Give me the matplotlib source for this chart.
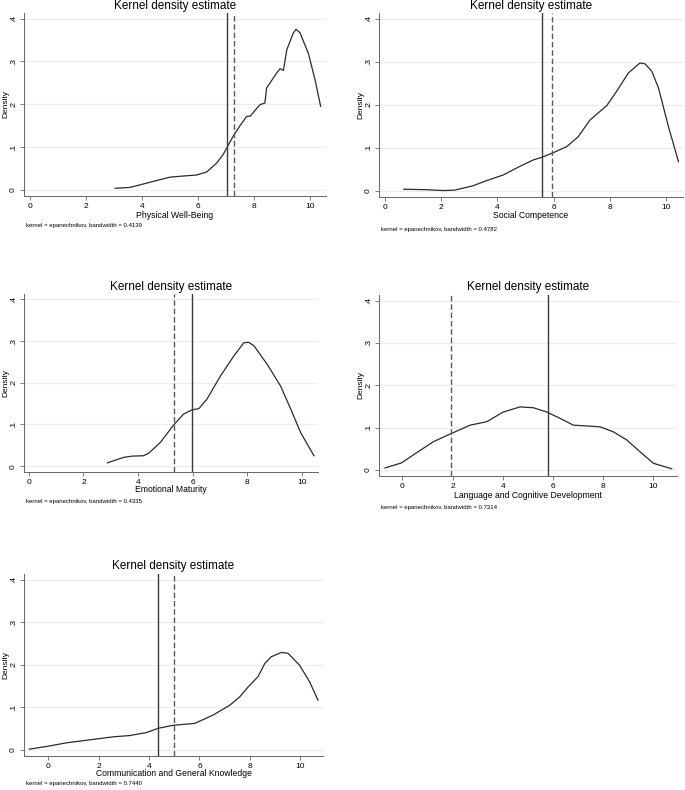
import matplotlib
matplotlib.use("Agg")
import matplotlib.pyplot as plt

plt.rcParams['font.family'] = ['Liberation Sans', 'DejaVu Sans']

# 各面板数据
pwb_x = [3.04, 3.57, 3.93, 4.52, 5.0, 5.36, 5.95, 6.31, 6.67, 6.9, 7.26, 7.5, 7.74, 7.86,
         8.21, 8.39, 8.45, 8.81, 8.93, 9.05, 9.17, 9.40, 9.5, 9.64, 9.94, 10.18, 10.38]
pwb_y = [.004, .006, .012, .022, .030, .032, .035, .042, .063, .083, .126, .150, .172, .172,
         .199, .203, .238, .273, .283, .279, .327, .366, .375, .367, .319, .257, .195]

sc_x = [0.68, 1.48, 2.08, 2.49, 3.14, 3.62, 4.21, 4.8, 5.28, 5.58, 6.0, 6.47, 6.88, 7.3,
        7.89, 8.24, 8.66, 9.07, 9.25, 9.49, 9.73, 10.08, 10.44]
sc_y = [.004, .003, .001, .002, .012, .024, .037, .057, .072, .078, .089, .103, .126, .165,
        .198, .231, .274, .297, .295, .278, .239, .150, .068]

em_x = [2.88, 3.47, 3.77, 4.2, 4.39, 4.82, 5.31, 5.67, 5.98, 6.23, 6.53, 7.02, 7.51, 7.88,
        8.06, 8.25, 8.74, 9.23, 9.6, 9.96, 10.45]
em_y = [.008, .021, .024, .025, .031, .057, .099, .125, .135, .138, .161, .216, .264, .296,
        .297, .289, .244, .192, .137, .081, .025]

lcd_x = [-0.69, -0.03, 0.57, 1.24, 1.94, 2.70, 3.36, 4.02, 4.69, 5.22, 5.75, 6.28, 6.81,
         7.34, 7.88, 8.41, 8.94, 9.47, 10.0, 10.73]
lcd_y = [.005, .017, .041, .067, .086, .106, .114, .137, .149, .147, .137, .122, .106,
         .104, .102, .090, .071, .043, .016, .003]

cgk_x = [-0.75, 0.0, 0.73, 1.39, 2.05, 2.58, 3.24, 3.9, 4.36, 4.95, 5.81, 6.54, 7.2, 7.6,
         7.93, 8.32, 8.59, 8.85, 9.25, 9.51, 9.97, 10.37, 10.7]
cgk_y = [.002, .009, .017, .022, .027, .031, .034, .041, .051, .058, .0625, .082, .105, .125,
         .148, .172, .203, .219, .229, .227, .199, .160, .117]

labels = ["Physical Well-Being", "Social Competence", "Emotional Maturity",
          "Language and Cognitive Development", "Communication and General Knowledge"]
bandwidths = ["0.4139", "0.4782", "0.4335", "0.7314", "0.7440"]
solid_lines = [7.04, 5.58, 5.99, 5.79, 4.37]
dashed_lines = [7.30, 5.96, 5.33, 1.94, 4.98]
xs = [pwb_x, sc_x, em_x, lcd_x, cgk_x]
ys = [pwb_y, sc_y, em_y, lcd_y, cgk_y]

y_ticks = [0, .1, .2, .3, .4]
y_tick_labels = ["0", ".1", ".2", ".3", ".4"]
x_ticks = [0, 2, 4, 6, 8, 10]

# 布局 (像素): 左, 上, 右, 下; x 范围; 标题/横轴标签/注释的 y 像素
W, H = 685, 790
boxes = [(24, 13, 326, 196), (379, 13, 683, 197), (24, 294, 318, 472),
         (379, 295, 677, 476), (24, 574, 323, 756)]
xlims = [(-0.21, 10.57), (-0.2, 10.6), (-0.18, 10.6), (-0.93, 10.94), (-0.96, 10.9)]
title_y = [6, 6, 287, 287, 566]
xlabel_y = [215, 216, 490, 495, 774]
note_y = [225, 229, 501, 508, 783]

fig = plt.figure(figsize=(W / 100, H / 100), dpi=100)

for i in range(5):
    l, t, r, b = boxes[i]
    ax = fig.add_axes([l / W, 1 - b / H, (r - l) / W, (b - t) / H])
    ax.plot(xs[i], ys[i], color="#2b2b2b", linewidth=0.9)
    ax.axvline(solid_lines[i], color="#3a3a3a", linewidth=1.0)
    ax.axvline(dashed_lines[i], color="#5a5a5a", linewidth=1.0, linestyle=(0, (4, 2)))
    ax.set_xlim(*xlims[i])
    ax.set_ylim(-0.014, 0.413)
    ax.set_yticks(y_ticks)
    ax.set_yticklabels(y_tick_labels, rotation=90, va="center")
    ax.set_xticks(x_ticks)
    ax.tick_params(labelsize=6, length=3, width=0.6, color="#666666", pad=2)
    ax.grid(axis="y", color="#ececec", linewidth=0.8)
    ax.set_axisbelow(True)
    for s in ["top", "right"]:
        ax.spines[s].set_visible(False)
    for s in ["left", "bottom"]:
        ax.spines[s].set_color("#666666")
        ax.spines[s].set_linewidth(0.7)
    cx = (l + r) / 2 / W
    cy = 1 - (t + b) / 2 / H
    fig.text((l - 18) / W, cy, "Density", fontsize=6, rotation=90,
             ha="center", va="center")
    fig.text(cx, 1 - title_y[i] / H, "Kernel density estimate", fontsize=8.5,
             ha="center", va="center")
    fig.text(cx, 1 - xlabel_y[i] / H, labels[i], fontsize=6.2, ha="center", va="center")
    fig.text((l + 2) / W, 1 - note_y[i] / H,
             "kernel = epanechnikov, bandwidth = " + bandwidths[i],
             fontsize=4.3, ha="left", va="center")

plt.savefig("out.png", dpi=100)
